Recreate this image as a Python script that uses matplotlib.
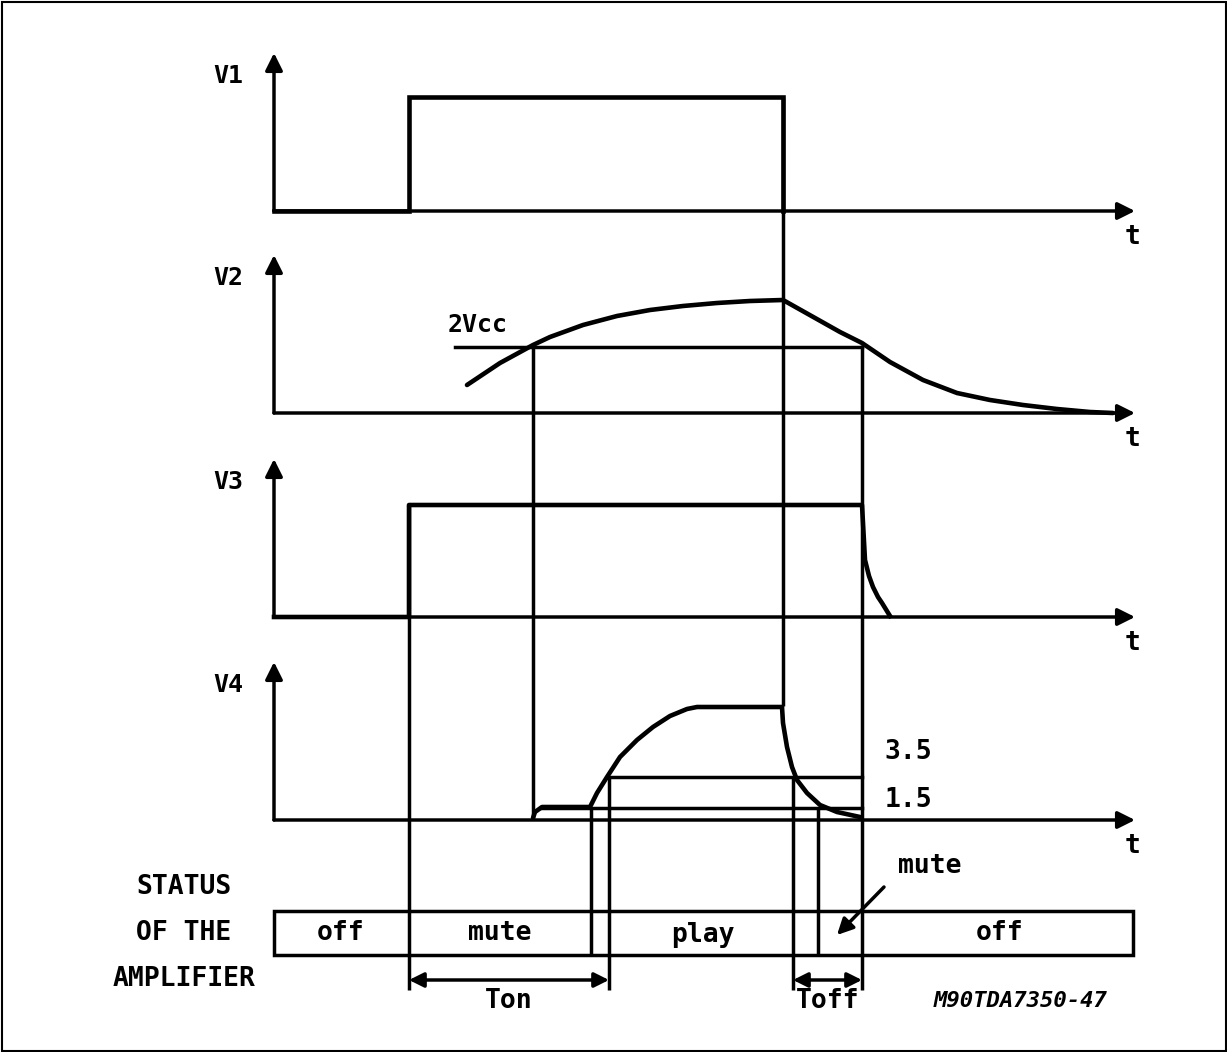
import numpy as np
import matplotlib.pyplot as plt
from matplotlib.patches import Rectangle

plt.rcParams['font.family'] = ['DejaVu Sans Mono']

W, H = 1227, 1052

# axes of the four traces (time axis origin / end, baselines)
row_names = ["V1", "V2", "V3", "V4"]
baselines = [211, 413, 617, 820]
t0, t_end = 274, 1135
axis_height = 158

# V1 : supply switch
v1_x = [274, 409, 409, 783, 783]
v1_y = [211, 211, 97, 97, 211]

# V2 : supply voltage, crosses 2Vcc
v2_x = [467, 500, 533, 550, 583, 617, 650, 683, 717, 750, 783,
        840, 862, 890, 923, 957, 990, 1023, 1057, 1090, 1113]
v2_y = [385, 363, 345, 337, 325, 316, 310, 306, 303, 301, 300,
        332, 343, 362, 380, 393, 400, 405, 409, 412, 413]
vcc2_level = 347
vcc2_span = (455, 862)

# V3 : stand-by pin
v3_x = [274, 409, 409, 862, 863, 865, 869, 873, 878, 882, 890]
v3_y = [617, 617, 505, 505, 523, 560, 576, 587, 597, 603, 616]

# V4 : mute pin
v4_x = [533, 535, 542, 590, 597, 607, 620, 637, 653, 670, 687, 697,
        782, 783, 787, 792, 797, 807, 820, 837, 860]
v4_y = [818, 812, 807, 807, 793, 777, 757, 740, 727, 716, 709, 707,
        707, 723, 747, 767, 780, 793, 805, 812, 817]
lvl_35, lvl_15 = 777, 808
lvl_35_span = (609, 862)
lvl_15_span = (541, 862)

# guide lines : (x, y_top, y_bottom)
guides = [(409, 505, 990), (533, 347, 818), (591, 808, 955), (609, 777, 990),
          (783, 97, 706), (793, 777, 990), (818, 808, 955), (862, 345, 990)]

# status bar
bar_left, bar_right, bar_top, bar_bot = 274, 1133, 911, 955
status_labels = ["off", "mute", "play", "off"]
status_pos = [(341, 933), (500, 933), (703, 935), (1000, 933)]

fig = plt.figure(figsize=(W / 100, H / 100), dpi=100)
ax = fig.add_axes([0, 0, 1, 1])
ax.set_xlim(0, W)
ax.set_ylim(H, 0)
ax.axis('off')

thick = 3.3
thin = 2.5

ax.add_patch(Rectangle((1.5, 1.5), W - 3, H - 3, fill=False, lw=1.5, ec='black'))

for name, yb in zip(row_names, baselines):
    ax.annotate('', xy=(t_end, yb), xytext=(t0, yb),
                arrowprops=dict(arrowstyle='-|>', lw=thin, color='black', mutation_scale=26,
                                shrinkA=0, shrinkB=0))
    ax.annotate('', xy=(t0, yb - axis_height), xytext=(t0, yb),
                arrowprops=dict(arrowstyle='-|>', lw=thin, color='black', mutation_scale=26,
                                shrinkA=0, shrinkB=0))
    ax.text(t0 - 46, yb - 135, name, fontsize=18, fontweight='bold', ha='center', va='center')
    ax.text(t_end - 2, yb + 26, 't', fontsize=19, fontweight='bold', ha='center', va='center')

for x, y1, y2 in guides:
    ax.plot([x, x], [y1, y2], color='black', lw=thin, solid_capstyle='butt')

ax.plot(vcc2_span, [vcc2_level] * 2, color='black', lw=thin)
ax.plot(lvl_35_span, [lvl_35] * 2, color='black', lw=thin)
ax.plot(lvl_15_span, [lvl_15] * 2, color='black', lw=thin)

ax.plot(v1_x, v1_y, color='black', lw=thick, solid_joinstyle='miter')
ax.plot(v2_x, v2_y, color='black', lw=thick, solid_capstyle='round', solid_joinstyle='round')
ax.plot(v3_x, v3_y, color='black', lw=thick, solid_joinstyle='round')
ax.plot(v4_x, v4_y, color='black', lw=thick, solid_capstyle='round', solid_joinstyle='round')

ax.text(478, 325, '2Vcc', fontsize=18, fontweight='bold', ha='center', va='center')
ax.text(908, 752, '3.5', fontsize=19, fontweight='bold', ha='center', va='center')
ax.text(908, 800, '1.5', fontsize=19, fontweight='bold', ha='center', va='center')

ax.add_patch(Rectangle((bar_left, bar_top), bar_right - bar_left, bar_bot - bar_top,
                       fill=False, lw=thin, ec='black'))
for lab, (x, y) in zip(status_labels, status_pos):
    ax.text(x, y, lab, fontsize=19, fontweight='bold', ha='center', va='center')

for lab, y in zip(["STATUS", "OF THE", "AMPLIFIER"], [887, 933, 979]):
    ax.text(184, y, lab, fontsize=19, fontweight='bold', ha='center', va='center')

# mute pointer
ax.text(930, 866, 'mute', fontsize=19, fontweight='bold', ha='center', va='center')
ax.annotate('', xy=(837, 935), xytext=(884, 887),
            arrowprops=dict(arrowstyle='-|>', lw=thin, color='black', mutation_scale=24,
                            shrinkA=0, shrinkB=0))

# Ton / Toff
for (xa, xb), lab in zip([(409, 609), (793, 862)], ['Ton', 'Toff']):
    ax.annotate('', xy=(xb, 980), xytext=(xa, 980),
                arrowprops=dict(arrowstyle='<|-|>', lw=thin, color='black', mutation_scale=22,
                                shrinkA=0, shrinkB=0))
    ax.text((xa + xb) / 2, 1001, lab, fontsize=19, fontweight='bold', ha='center', va='center')

ax.text(1021, 1001, 'M90TDA7350-47', fontsize=16, fontweight='bold', style='italic',
        ha='center', va='center')

fig.savefig('out.png', dpi=100)
